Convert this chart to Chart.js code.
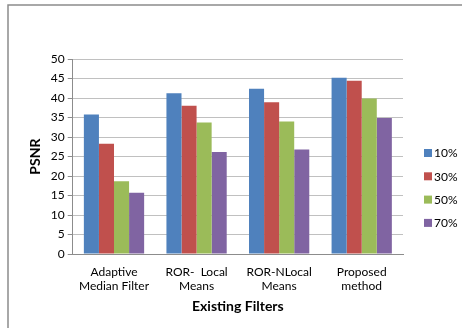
<!DOCTYPE html>
<html>
<head>
<meta charset="utf-8">
<script src="https://cdn.jsdelivr.net/npm/chart.js@4.4.1/dist/chart.umd.min.js"></script>
<style>
  html, body { margin: 0; padding: 0; background: #fff; }
  #wrap { width: 462px; height: 328px; position: relative; }
</style>
</head>
<body>
<div id="wrap"><canvas id="c" width="462" height="328"></canvas></div>
<script>
const categories = [["Adaptive", "Median Filter"], ["ROR-  Local", "Means"], ["ROR-NLocal", "Means"], ["Proposed", "method"]];
const seriesNames = ["10%", "30%", "50%", "70%"];
const psnr10 = [35.8, 41.2, 42.4, 45.2];
const psnr30 = [28.3, 38.0, 38.9, 44.4];
const psnr50 = [18.7, 33.7, 34.0, 39.9];
const psnr70 = [15.7, 26.2, 26.8, 34.9];
const colors = ["#4F81BD", "#C0504D", "#9BBB59", "#8064A2"];

const FONT = "Lato, 'Liberation Sans', sans-serif";

// Grey frame along the top and left edges of the chart panel
const framePlugin = {
  id: "frame",
  beforeDraw(chart) {
    const ctx = chart.ctx;
    ctx.save();
    ctx.strokeStyle = "#8c8c8c";
    ctx.lineWidth = 1.5;
    ctx.beginPath();
    ctx.moveTo(8, 330);
    ctx.lineTo(8, 5);
    ctx.lineTo(470, 5);
    ctx.stroke();
    ctx.restore();
  }
};

// Series key at the right of the plot, built from the datasets
const sideLegend = {
  id: "sideLegend",
  afterDraw(chart) {
    const ctx = chart.ctx;
    const x = chart.chartArea.right + 21;
    const y0 = 153;
    const step = 23.3;
    ctx.save();
    ctx.font = "12px " + FONT;
    ctx.textBaseline = "middle";
    ctx.textAlign = "left";
    chart.data.datasets.forEach((ds, i) => {
      const y = y0 + i * step;
      ctx.fillStyle = ds.backgroundColor;
      ctx.fillRect(x, y - 4, 8, 8);
      ctx.fillStyle = "#000";
      ctx.fillText(ds.label, x + 10, y + 0.5);
    });
    ctx.restore();
  }
};

new Chart(document.getElementById("c"), {
  type: "bar",
  data: {
    labels: categories,
    datasets: [psnr10, psnr30, psnr50, psnr70].map((vals, i) => ({
      label: seriesNames[i],
      data: vals,
      backgroundColor: colors[i],
      borderWidth: 0,
      categoryPercentage: 0.73,
      barPercentage: 1.0
    }))
  },
  options: {
    responsive: false,
    animation: false,
    devicePixelRatio: 1,
    layout: { padding: { left: 23, top: 59, right: 59, bottom: 13 } },
    plugins: {
      legend: { display: false },
      tooltip: { enabled: false }
    },
    scales: {
      x: {
        grid: { display: false },
        border: { display: true, color: "#8c8c8c" },
        ticks: { color: "#000", font: { family: FONT, size: 12, lineHeight: 1.17 }, maxRotation: 0, padding: 3 },
        title: { display: true, text: "Existing Filters", color: "#000", font: { family: FONT, size: 14, weight: "bold" }, padding: { top: 2, bottom: 0 } }
      },
      y: {
        min: 0,
        max: 50,
        ticks: { stepSize: 5, color: "#000", font: { family: FONT, size: 12 }, padding: 3 },
        grid: { color: "#c0c0c0", tickLength: 5, tickColor: "#8c8c8c" },
        border: { display: true, color: "#8c8c8c" },
        title: { display: true, text: "PSNR", color: "#000", font: { family: FONT, size: 14, weight: "bold" }, padding: { top: 4, bottom: 4 } }
      }
    }
  },
  plugins: [framePlugin, sideLegend]
});
</script>
</body>
</html>
